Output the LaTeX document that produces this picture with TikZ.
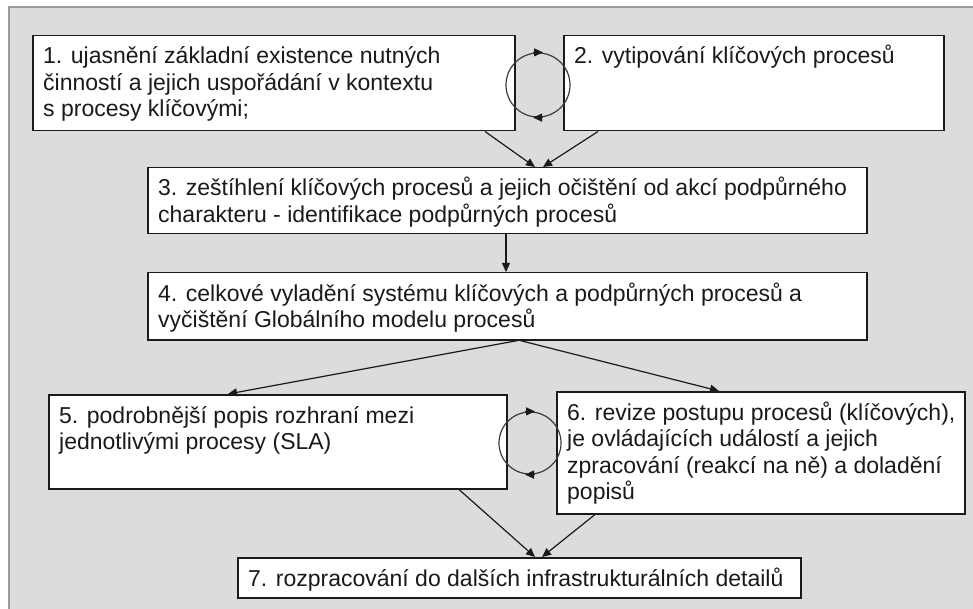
\documentclass[tikz,border=0pt]{standalone}
\usepackage{fontspec}
\setmainfont{Liberation Sans}
\usetikzlibrary{arrows.meta,calc}
\definecolor{panel}{HTML}{DCDCDC}
\definecolor{frameline}{HTML}{9C9C9C}
\definecolor{ink}{HTML}{1A1A1A}
\tikzset{
  stepbox/.style={draw=ink, line width=1.5pt, fill=white, rectangle, inner sep=0pt, anchor=north west},
  boxtext/.style={anchor=base west, inner sep=0pt, text=ink, font=\fontsize{23}{26.5}\selectfont},
  flow/.style={draw=ink, line width=1.2pt, -{Triangle[length=9pt,width=8pt]}},
  loopring/.style={circle, draw=ink!85, line width=1.2pt, inner sep=0pt},
  looptip/.style={draw=ink, line width=1.2pt, -{Triangle[length=9pt,width=8pt]}},
}
% box: name, left, top, width, height, text
\newcommand{\procbox}[6]{%
  \node[stepbox, minimum width=#4pt, minimum height=#5pt] (#1) at (#2,-#3) {};
  \node[boxtext] (#1t) at ($(#1.north west)+(11,-29)$) {\parbox[t]{#4pt}{#6}};
}
\begin{document}
\begin{tikzpicture}[x=1pt,y=1pt]
\useasboundingbox (0,0) rectangle (973,-609);
% panel
\fill[panel] (9,-7) rectangle (990,-620);
\draw[frameline, line width=1.2pt] (990,-7) -- (9,-7) -- (9,-620);

\procbox{b1}{32}{35}{482}{95}{1. ujasnění základní existence nutných\\činností a jejich uspořádání v kontextu\\s procesy klíčovými;}
\procbox{b2}{563}{35}{380}{95}{2. vytipování klíčových procesů}
\procbox{b3}{147}{167}{719}{66}{3. zeštíhlení klíčových procesů a jejich očištění od akcí podpůrného\\charakteru - identifikace podpůrných procesů}
\procbox{b4}{147}{272}{719}{67}{4. celkové vyladění systému klíčových a podpůrných procesů a\\vyčištění Globálního modelu procesů}
\procbox{b5}{48}{394}{458}{94}{5. podrobnější popis rozhraní mezi\\jednotlivými procesy (SLA)}
\procbox{b6}{556}{391}{408}{122}{6. revize postupu procesů (klíčových),\\je ovládajících událostí a jejich\\zpracování (reakcí na ně) a doladění\\popisů}
\procbox{b7}{237}{557}{563}{40}{7. rozpracování do dalších infrastrukturálních detailů}

% iteration loops
\node[loopring, minimum size=64pt] (r1) at (538,-85) {};
\draw[looptip] ([xshift=-5pt]r1.north) -- ([xshift=5pt]r1.north);
\draw[looptip] ([xshift=4pt]r1.south) -- ([xshift=-5pt]r1.south);
\node[loopring, minimum size=62pt] (r2) at (530,-443) {};
\draw[looptip] ([xshift=-5pt]r2.north) -- ([xshift=5pt]r2.north);
\draw[looptip] ([xshift=4pt]r2.south) -- ([xshift=-5pt]r2.south);

% flow connectors
\draw[flow] ($(b1.south west)+(453,0)$) -- ($(b3.north west)+(388,0)$);
\draw[flow] ($(b2.south west)+(35,0)$) -- ($(b3.north west)+(396,0)$);
\draw[flow] ($(b3.south west)+(359,0)$) -- ($(b4.north west)+(359,0)$);
\draw[flow] ($(b4.south west)+(371,0)$) -- ($(b5.north west)+(180,0)$);
\draw[flow] ($(b4.south west)+(373,0)$) -- ($(b6.north west)+(163,0)$);
\draw[flow] ($(b5.south west)+(411,0)$) -- ($(b7.north west)+(298,0)$);
\draw[flow] ($(b6.south west)+(39,0)$) -- ($(b7.north west)+(305,0)$);
\end{tikzpicture}
\end{document}
